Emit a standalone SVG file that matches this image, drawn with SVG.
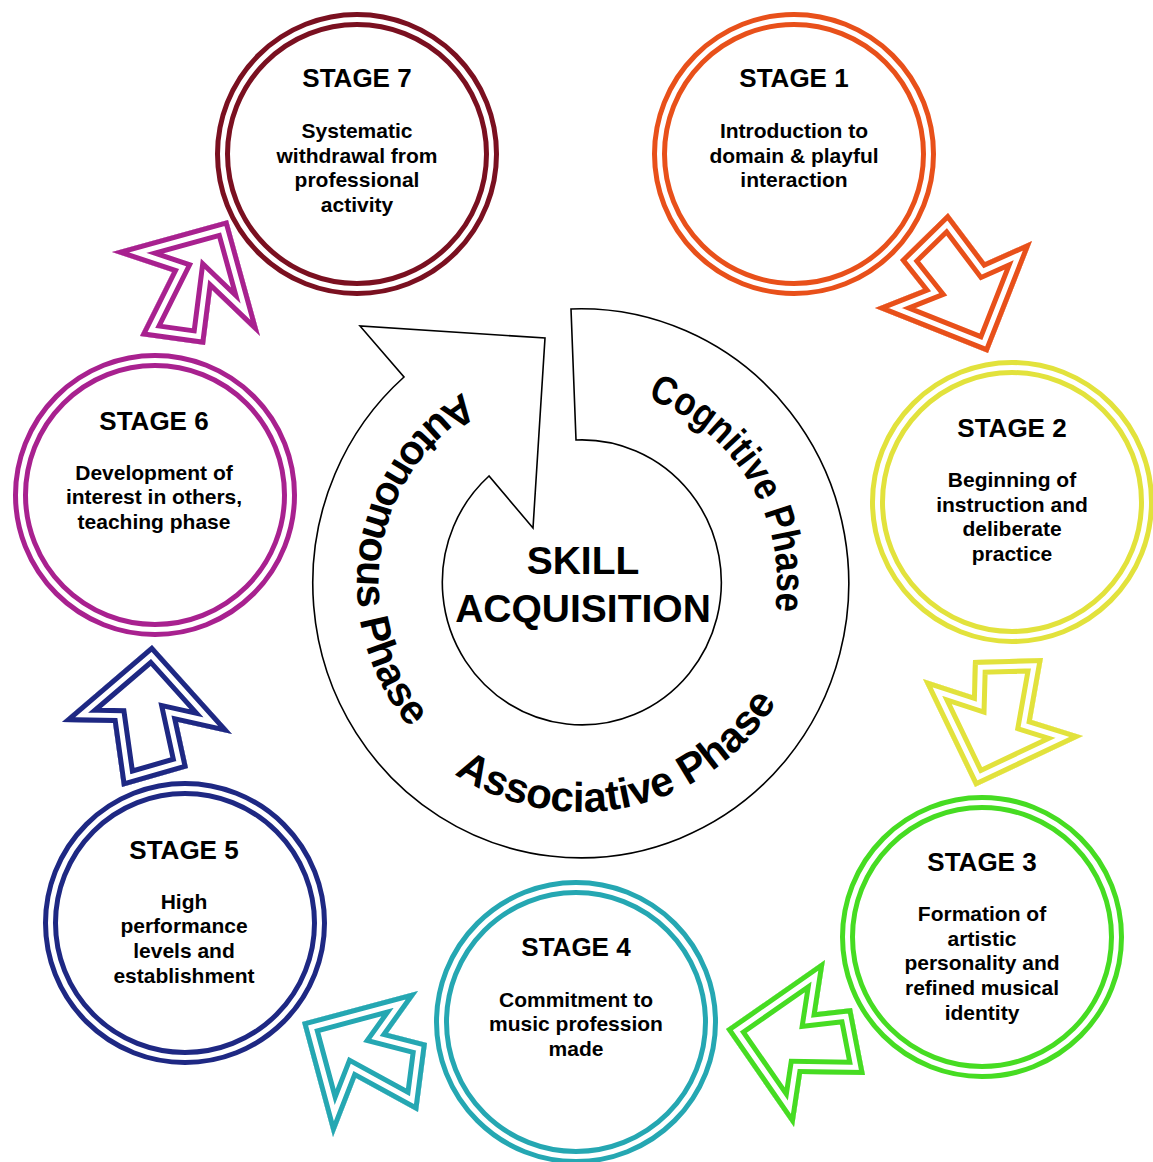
<svg xmlns="http://www.w3.org/2000/svg" xmlns:xlink="http://www.w3.org/1999/xlink" width="1153" height="1162" viewBox="0 0 1153 1162">
<style>
  text { font-family: "Liberation Sans", Arial, sans-serif; font-weight: bold; fill: #000; text-anchor: middle; }
  .title { font-size: 26px; }
  .body { font-size: 21px; }
  .center { font-size: 39px; }
  .phase { font-size: 40px; }
  .ringO { fill: #fff; stroke-width: 15; }
  .ringI { fill: none; stroke: #fff; stroke-width: 5; }
  .w30 { fill: none; stroke-width: 30; stroke-linejoin: miter; stroke-miterlimit: 20; }
  .w20 { fill: none; stroke: #fff; stroke-width: 20; stroke-linejoin: miter; stroke-miterlimit: 20; }
  .w10 { fill: none; stroke-width: 10; stroke-linejoin: miter; stroke-miterlimit: 20; }
</style>
<defs>
  <path id="a1" d="M948,213 L985,262 L1032,241 L988,353 L875,308 L923,289 L900,260 Z"/>
  <path id="a2" d="M973,660 L1043,658 L1032,720 L1083,736 L975,787 L923,679 L972,695 Z"/>
  <path id="a3" d="M726,1029 L825,960 L817,1012 L852,1008 L865,1075 L802,1074 L794,1127 Z"/>
  <path id="a4" d="M302,1022 L418,991 L388,1033 L427,1043 L418,1112 L356,1078 L333,1137 Z"/>
  <path id="a5" d="M152,645 L232,734 L178,722 L188,768 L122,787 L113,723 L62,722 Z"/>
  <path id="a6" d="M228,220 L260,336 L212,290 L205,345 L140,336 L172,272 L112,252 Z"/>
  <clipPath id="c1"><use href="#a1"/></clipPath>
  <clipPath id="c2"><use href="#a2"/></clipPath>
  <clipPath id="c3"><use href="#a3"/></clipPath>
  <clipPath id="c4"><use href="#a4"/></clipPath>
  <clipPath id="c5"><use href="#a5"/></clipPath>
  <clipPath id="c6"><use href="#a6"/></clipPath>
  <path id="pCog" d="M581,387 A196,196 0 1,1 581,779 A196,196 0 1,1 581,387"/>
  <path id="pAsso" d="M581,354 A229,229 0 1,0 581,812 A229,229 0 1,0 581,354"/>
  <path id="pAuto" d="M581,359 A224,224 0 1,0 581,807 A224,224 0 1,0 581,359"/>
</defs>
<rect width="1153" height="1162" fill="#fff"/>

<g id="cycle">
  <path d="M571,309 A268,274.5 0 1,1 404,377 L360,326 L545,338 L533,528 L489,476 A139.5,142.5 0 1,0 576,440 Z" fill="#fff" stroke="#000" stroke-width="1.6" stroke-linejoin="miter"/>
  <text class="center" x="583" y="574">SKILL</text>
  <text class="center" x="583" y="622">ACQUISITION</text>
  <text class="phase"><textPath href="#pCog" startOffset="201.8" textLength="268" lengthAdjust="spacingAndGlyphs">Cognitive Phase</textPath></text>
  <text class="phase" style="font-size:42px"><textPath href="#pAsso" startOffset="769.4">Associative Phase</textPath></text>
  <text class="phase" style="font-size:41px"><textPath href="#pAuto" startOffset="316.7">Autonomous Phase</textPath></text>
</g>

<g id="connectors">
  <g clip-path="url(#c1)"><use href="#a1" class="w30" stroke="#E8501A"/><use href="#a1" class="w20"/><use href="#a1" class="w10" stroke="#E8501A"/></g>
  <g clip-path="url(#c2)"><use href="#a2" class="w30" stroke="#E2E23C"/><use href="#a2" class="w20"/><use href="#a2" class="w10" stroke="#E2E23C"/></g>
  <g clip-path="url(#c3)"><use href="#a3" class="w30" stroke="#46DC22"/><use href="#a3" class="w20"/><use href="#a3" class="w10" stroke="#46DC22"/></g>
  <g clip-path="url(#c4)"><use href="#a4" class="w30" stroke="#25A7B2"/><use href="#a4" class="w20"/><use href="#a4" class="w10" stroke="#25A7B2"/></g>
  <g clip-path="url(#c5)"><use href="#a5" class="w30" stroke="#1E2883"/><use href="#a5" class="w20"/><use href="#a5" class="w10" stroke="#1E2883"/></g>
  <g clip-path="url(#c6)"><use href="#a6" class="w30" stroke="#A8218F"/><use href="#a6" class="w20"/><use href="#a6" class="w10" stroke="#A8218F"/></g>
</g>

<g id="stage1">
  <circle class="ringO" cx="794" cy="154" r="134.5" stroke="#E8501A"/>
  <circle class="ringI" cx="794" cy="154" r="134.5"/>
  <text class="title" x="794" y="87">STAGE 1</text>
  <text class="body" x="794" y="138">Introduction to</text>
  <text class="body" x="794" y="163">domain &amp; playful</text>
  <text class="body" x="794" y="187">interaction</text>
</g>

<g id="stage2">
  <circle class="ringO" cx="1012" cy="502" r="134.5" stroke="#E2E23C"/>
  <circle class="ringI" cx="1012" cy="502" r="134.5"/>
  <text class="title" x="1012" y="437">STAGE 2</text>
  <text class="body" x="1012" y="487">Beginning of</text>
  <text class="body" x="1012" y="512">instruction and</text>
  <text class="body" x="1012" y="536">deliberate</text>
  <text class="body" x="1012" y="561">practice</text>
</g>

<g id="stage3">
  <circle class="ringO" cx="982" cy="937" r="134.5" stroke="#46DC22"/>
  <circle class="ringI" cx="982" cy="937" r="134.5"/>
  <text class="title" x="982" y="871">STAGE 3</text>
  <text class="body" x="982" y="921">Formation of</text>
  <text class="body" x="982" y="946">artistic</text>
  <text class="body" x="982" y="970">personality and</text>
  <text class="body" x="982" y="995">refined musical</text>
  <text class="body" x="982" y="1020">identity</text>
</g>

<g id="stage4">
  <circle class="ringO" cx="576" cy="1022" r="134.5" stroke="#25A7B2"/>
  <circle class="ringI" cx="576" cy="1022" r="134.5"/>
  <text class="title" x="576" y="956">STAGE 4</text>
  <text class="body" x="576" y="1007">Commitment to</text>
  <text class="body" x="576" y="1031">music profession</text>
  <text class="body" x="576" y="1056">made</text>
</g>

<g id="stage5">
  <circle class="ringO" cx="185" cy="923" r="134.5" stroke="#1E2883"/>
  <circle class="ringI" cx="185" cy="923" r="134.5"/>
  <text class="title" x="184" y="859">STAGE 5</text>
  <text class="body" x="184" y="909">High</text>
  <text class="body" x="184" y="933">performance</text>
  <text class="body" x="184" y="958">levels and</text>
  <text class="body" x="184" y="983">establishment</text>
</g>

<g id="stage6">
  <circle class="ringO" cx="155" cy="495" r="134.5" stroke="#A8218F"/>
  <circle class="ringI" cx="155" cy="495" r="134.5"/>
  <text class="title" x="154" y="430">STAGE 6</text>
  <text class="body" x="154" y="480">Development of</text>
  <text class="body" x="154" y="504">interest in others,</text>
  <text class="body" x="154" y="529">teaching phase</text>
</g>

<g id="stage7">
  <circle class="ringO" cx="357" cy="154" r="134.5" stroke="#7A1020"/>
  <circle class="ringI" cx="357" cy="154" r="134.5"/>
  <text class="title" x="357" y="87">STAGE 7</text>
  <text class="body" x="357" y="138">Systematic</text>
  <text class="body" x="357" y="163">withdrawal from</text>
  <text class="body" x="357" y="187">professional</text>
  <text class="body" x="357" y="212">activity</text>
</g>
</svg>
